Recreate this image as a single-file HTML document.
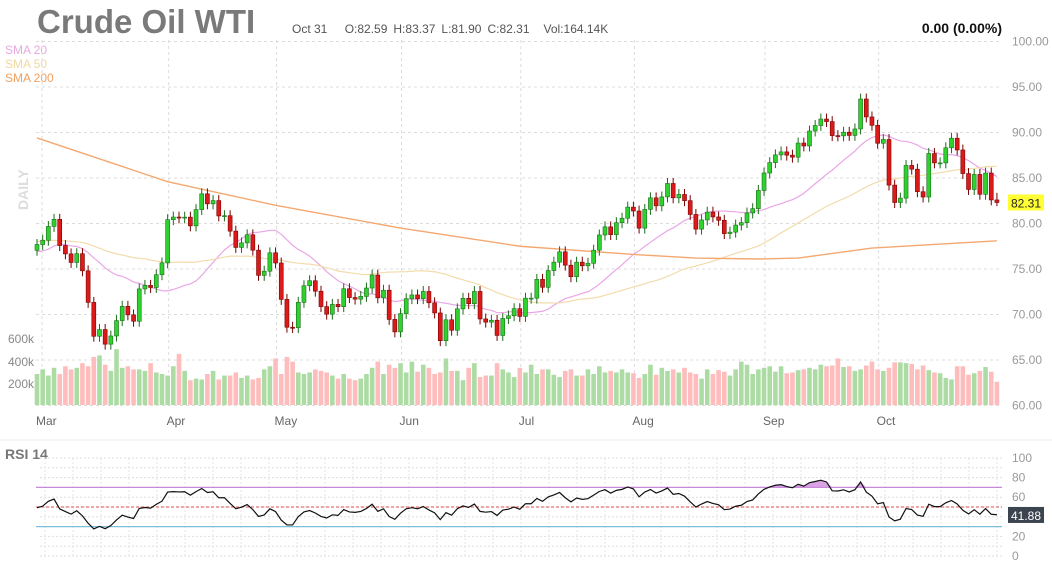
<!DOCTYPE html>
<html><head><meta charset="utf-8"><style>
html,body{margin:0;padding:0;background:#fff;}
svg{display:block;font-family:"Liberation Sans Narrow","Liberation Sans",sans-serif;}
</style></head><body>
<svg id="chart" width="1052" height="566" viewBox="0 0 1052 566" xmlns="http://www.w3.org/2000/svg">
<text x="37" y="33" font-size="33" font-weight="bold" fill="#7a7a7a" font-family="Liberation Sans Narrow, Liberation Sans, sans-serif">Crude Oil WTI</text>
<text x="292" y="33" font-size="12" fill="#555">Oct 31 <tspan dx="14">O:82.59</tspan><tspan dx="6">H:83.37</tspan><tspan dx="6">L:81.90</tspan><tspan dx="6">C:82.31</tspan><tspan dx="14">Vol:164.14K</tspan></text>
<text x="1002" y="33" font-size="14" font-weight="bold" fill="#111" text-anchor="end">0.00 (0.00%)</text>
<text x="5" y="54" font-size="12" fill="#e8a8e0">SMA 20</text>
<text x="5" y="68" font-size="12" fill="#f0d8a0">SMA 50</text>
<text x="5" y="82" font-size="12" fill="#f0a060">SMA 200</text>
<text transform="translate(28,210) rotate(-90)" font-size="14" font-weight="bold" fill="#ddd">DAILY</text>
<text x="8" y="343" font-size="12" fill="#888">600k</text>
<text x="8" y="366" font-size="12" fill="#888">400k</text>
<text x="8" y="388" font-size="12" fill="#888">200k</text>
<line x1="0" y1="440" x2="1052" y2="440" stroke="#eee" stroke-width="1"/>
<text x="5" y="459" font-size="14" font-weight="bold" fill="#777">RSI 14</text>
<g id="grid"></g><g id="vol"></g><g id="sma"></g><g id="candles"></g><g id="rsi"></g><g id="labels"></g>
</svg>
<script>
const NS="http://www.w3.org/2000/svg";
const months=["Mar","Apr","May","Jun","Jul","Aug","Sep","Oct"];
const monthStart=[0,23,42,64,85,105,128,148];
const priceTicks=[100,95,90,85,80,75,70,65,60];
const rsiTicks=[100,80,60,40,20,0];
const priorCloses=[80.18,79.48,80.33,81.64,81.62,80.13,80.15,81.01,79.68,77.90,78.87,76.41,75.88,73.39,74.11,77.14,78.47,78.06,79.72,80.14,79.06,78.59,78.49,76.34,76.16,73.95,75.39,76.32,75.68,77.05];
const closes=[77.69,78.16,79.68,80.46,77.58,76.66,75.72,76.68,74.80,71.33,67.61,68.35,66.74,67.64,69.33,70.90,69.96,69.26,72.81,73.20,72.97,74.37,75.67,
80.42,80.71,80.61,80.70,79.74,81.53,83.26,82.16,82.52,80.83,80.86,79.16,77.37,77.87,78.76,77.07,74.30,74.76,76.78,
75.66,71.66,68.60,68.56,71.34,73.16,73.71,72.56,70.87,70.04,71.11,70.86,72.83,71.86,71.69,71.99,72.91,74.34,71.83,72.67,69.46,68.09,
70.10,71.74,72.15,71.74,72.53,71.29,70.17,67.12,69.42,68.27,70.62,71.78,71.19,72.53,69.51,69.16,69.37,67.70,69.56,69.86,70.64,
69.79,71.79,71.80,73.86,72.99,74.83,75.75,76.89,75.42,74.15,75.75,75.35,75.63,77.07,78.74,79.63,78.78,80.09,80.58,81.80,
81.37,79.49,81.55,82.82,81.94,82.92,84.40,82.82,83.19,82.51,80.99,79.38,80.39,81.25,80.72,80.35,78.89,79.05,79.83,80.10,81.16,81.63,83.63,
85.55,86.69,87.54,87.87,87.51,87.29,88.84,88.52,90.16,90.77,91.48,91.20,89.66,89.63,90.03,89.68,90.39,93.68,91.71,90.79,
88.82,89.23,84.22,82.31,82.79,86.38,85.97,83.49,82.91,87.69,86.66,86.66,88.32,89.37,88.08,85.49,83.74,85.39,83.21,85.54,82.59,82.31];
const volumes=[200,230,190,240,200,250,230,240,270,250,310,320,260,220,360,240,250,230,230,220,270,210,200,
190,250,330,220,160,170,165,200,220,165,190,190,210,175,190,165,175,230,250,
300,200,310,280,210,200,210,230,220,210,190,170,200,170,160,170,200,240,280,200,260,240,
270,210,280,215,260,240,200,210,300,220,220,160,240,270,180,190,190,270,230,210,180,
240,210,260,200,230,230,195,180,220,230,190,190,230,200,250,210,220,210,230,210,
205,175,200,260,195,240,220,230,210,240,210,200,170,230,200,225,215,190,230,280,260,200,230,
240,250,215,250,205,210,225,230,240,230,260,250,255,300,245,250,220,230,255,280,
230,220,240,275,275,270,265,230,255,225,210,205,175,165,250,250,195,205,220,245,215,150];
const sma200Idx=[0,23,42,64,85,105,116,127,134,147,169];
const sma200Val=[89.4,84.6,82.0,79.5,77.5,76.6,76.2,76.1,76.2,77.3,78.1];
const lastOpen=82.59, lastHigh=83.37, lastLow=81.90;

const X=i=>37+i*5.68;
const Y=p=>41.5+(100-p)*9.1;
const VY=v=>405-v*0.155;
const RY=r=>556-r*0.98;
function mk(tag,attrs,parent){const e=document.createElementNS(NS,tag);for(const k in attrs)e.setAttribute(k,attrs[k]);parent.appendChild(e);return e;}
const G=id=>document.getElementById(id);
const grid=G('grid'),vol=G('vol'),sma=G('sma'),cd=G('candles'),rsiG=G('rsi'),lab=G('labels');

priceTicks.forEach(t=>{
  const l=mk('line',{x1:36,x2:1002,y1:Y(t),y2:Y(t),stroke:'#ddd','stroke-dasharray':'3,3'},grid);
  
  
  const tx=mk('text',{x:1012,y:Y(t)+4,'font-size':12,fill:'#999'},lab);
  tx.textContent=t.toFixed(2);
  
  
});
monthStart.forEach((s,k)=>{
  const x=X(s)+(k===0?5:1);
  const l=mk('line',{x1:x,x2:x,y1:40,y2:405,stroke:'#ddd','stroke-dasharray':'3,3'},grid);
  
  
  const tx=mk('text',{x:X(s)-1,y:425,'font-size':12,fill:'#666'},lab);
  tx.textContent=months[k];
  
  
});

const N=closes.length;
for(let i=0;i<N;i++){
  const c=closes[i];
  const o=i===N-1?lastOpen:(i===0?priorCloses[priorCloses.length-1]:closes[i-1]);
  const hi=i===N-1?lastHigh:Math.max(o,c)+0.6;
  const lo=i===N-1?lastLow:Math.min(o,c)-0.6;
  const up=c>=o;
  const x=X(i);
  const vb=mk('rect',{x:x-2.3,y:VY(volumes[i]),width:4.6,height:405-VY(volumes[i]),fill:up?'#acdca4':'#ffbcbc'},vol);
  
  
  const w=mk('line',{x1:x,x2:x,y1:Y(hi),y2:Y(lo),stroke:up?'#1a6e1a':'#7a0000','stroke-width':1},cd);
  
  
  const top=Y(Math.max(o,c)),h=Math.max(1,Math.abs(Y(o)-Y(c)));
  const b=mk('rect',{x:x-2,y:top,width:4,height:h,fill:up?'#2ed12e':'#dd1a1a',stroke:up?'#1a6e1a':'#7a0000','stroke-width':0.6},cd);
  
  
}

const all=priorCloses.concat(closes);
function smaPts(n){const pts=[];for(let i=0;i<N;i++){const j=priorCloses.length+i;const st=Math.max(0,j-n+1);let s=0;for(let k=st;k<=j;k++)s+=all[k];pts.push(X(i)+','+Y(s/(j-st+1)));}return pts.join(' ');}
const s20=mk('polyline',{points:smaPts(20),fill:'none',stroke:'#eaa6e6','stroke-width':1.2},sma);


const s50=mk('polyline',{points:smaPts(50),fill:'none',stroke:'#f2dcac','stroke-width':1.2},sma);


const s200=mk('polyline',{points:sma200Idx.map((ix,k)=>X(ix)+','+Y(sma200Val[k])).join(' '),fill:'none',stroke:'#f4a870','stroke-width':1.4},sma);



const tag=mk('rect',{x:1008,y:Y(82.31)-8,width:36,height:16,fill:'#ffff33'},lab);


const tt=mk('text',{x:1011,y:Y(82.31)+5,'font-size':12,fill:'#222'},lab);
tt.textContent='82.31';



for(let r=0;r<=100;r+=10){
  const l=mk('line',{x1:40,x2:1002,y1:RY(r),y2:RY(r),stroke:'#ddd','stroke-dasharray':'2,2'},rsiG);
  
  
}
for(let x=45;x<1000;x+=28){
  const l=mk('line',{x1:x,x2:x,y1:RY(100),y2:RY(0),stroke:'#e4e4e4','stroke-dasharray':'2,2'},rsiG);
  
  
}
rsiTicks.forEach(t=>{
  if(t===40)return;
  const tx=mk('text',{x:1012,y:RY(t)+4,'font-size':12,fill:'#999'},rsiG);
  tx.textContent=t;
  
  
});
[[70,'#c88ad8','rsi-overbought-line',''],[30,'#7cc0dc','rsi-oversold-line',''],[50,'#e87070','rsi-midline','3,2']].forEach(a=>{
  const l=mk('line',{x1:36,x2:1002,y1:RY(a[0]),y2:RY(a[0]),stroke:a[1],'stroke-width':1.2},rsiG);
  if(a[3])l.setAttribute('stroke-dasharray',a[3]);
  
  
});
let ag=0,al=0;const rsiVals=[];
for(let j=1;j<all.length;j++){
  const d=all[j]-all[j-1];const g=Math.max(d,0),lo=Math.max(-d,0);
  if(j<=14){ag+=g/14;al+=lo/14;}else{ag=(ag*13+g)/14;al=(al*13+lo)/14;}
  if(j>=priorCloses.length)rsiVals.push(al===0?100:100-100/(1+ag/al));
}
const rp=rsiVals.map((r,i)=>[X(i),RY(r),r]);
let fillPath='';
for(let i=0;i<rp.length-1;i++){
  const a=rp[i],b=rp[i+1];
  if(a[2]>70||b[2]>70){
    const y70=RY(70);
    const ay=Math.min(a[1],y70),by=Math.min(b[1],y70);
    fillPath+=`M${a[0]},${y70}L${a[0]},${ay}L${b[0]},${by}L${b[0]},${y70}Z`;
  }
}
const fp=mk('path',{d:fillPath||'M0,0',fill:'#d08ce0',opacity:0.8},rsiG);


const rl=mk('polyline',{points:rp.map(p=>p[0]+','+p[1]).join(' '),fill:'none',stroke:'#111','stroke-width':1.2},rsiG);


const rb=mk('rect',{x:1008,y:RY(41.88)-8,width:36,height:16,fill:'#3c4450'},rsiG);


const rt=mk('text',{x:1011,y:RY(41.88)+5,'font-size':12,fill:'#fff'},rsiG);
rt.textContent='41.88';


</script>
</body></html>
